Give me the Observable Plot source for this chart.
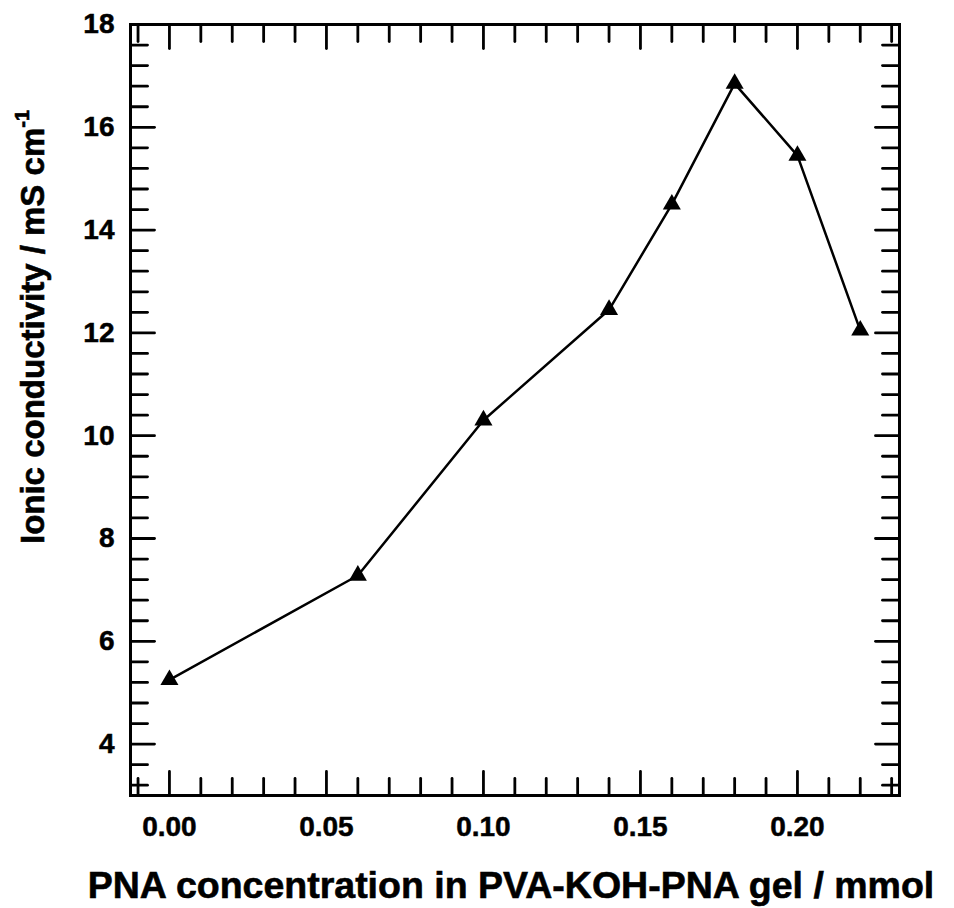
<!DOCTYPE html>
<html>
<head>
<meta charset="utf-8">
<script src="https://cdn.jsdelivr.net/npm/d3@7"></script>
<script src="https://cdn.jsdelivr.net/npm/@observablehq/plot@0.6"></script>
<style>
  html, body { margin: 0; padding: 0; background: #fff; }
  #chart { width: 954px; height: 908px; }
</style>
</head>
<body>
<div id="chart"></div>
<script>
// ---- data ----
const concentration = [0.00, 0.06, 0.10, 0.14, 0.16, 0.18, 0.20, 0.22];
const conductivity  = [5.25, 7.28, 10.30, 12.45, 14.50, 16.85, 15.45, 12.05];

const xMajorTicks = [0.00, 0.05, 0.10, 0.15, 0.20];
const yMajorTicks = [4, 6, 8, 10, 12, 14, 16, 18];

const xLabel = "PNA concentration in PVA-KOH-PNA gel / mmol";
const yLabel = "Ionic conductivity / mS cm";
const yLabelSup = "-1";

// minor ticks: every 0.01 on x, every 0.4 on y
const xMinorTicks = d3.range(-1, 24).filter(i => i % 5 !== 0).map(i => i / 100);
const yMinorTicks = d3.range(8, 45).filter(i => i % 5 !== 0).map(i => +(i * 0.4).toFixed(1));

const data = concentration.map((c, i) => ({c, k: conductivity[i]}));

const tickShape = {draw(ctx, l) { ctx.moveTo(0, 0); ctx.lineTo(0, -l); }};
const tickStyle = {stroke: "black", strokeWidth: 2.8, anchor: "start", shape: tickShape};

const font = "'Liberation Sans', Arial, sans-serif";
const tickFont = 28;

const plot = Plot.plot({
  width: 954,
  height: 908,
  marginLeft: 130,
  marginRight: 55,
  marginTop: 24,
  marginBottom: 113,
  style: {fontFamily: font, fontWeight: "bold", fontSize: tickFont + "px", color: "black", background: "white"},
  x: {domain: [-0.0124, 0.2325]},
  y: {domain: [3, 18]},
  marks: [
    // inward ticks, left & right
    Plot.vector(yMajorTicks, {y: d => d, frameAnchor: "left", rotate: 90, length: 24, ...tickStyle}),
    Plot.vector(yMinorTicks, {y: d => d, frameAnchor: "left", rotate: 90, length: 17, ...tickStyle}),
    Plot.vector(yMajorTicks, {y: d => d, frameAnchor: "right", rotate: -90, length: 24, ...tickStyle}),
    Plot.vector(yMinorTicks, {y: d => d, frameAnchor: "right", rotate: -90, length: 17, ...tickStyle}),
    // inward ticks, bottom & top
    Plot.vector(xMajorTicks, {x: d => d, frameAnchor: "bottom", rotate: 0, length: 24, ...tickStyle}),
    Plot.vector(xMinorTicks, {x: d => d, frameAnchor: "bottom", rotate: 0, length: 17, ...tickStyle}),
    Plot.vector(xMajorTicks, {x: d => d, frameAnchor: "top", rotate: 180, length: 24, ...tickStyle}),
    Plot.vector(xMinorTicks, {x: d => d, frameAnchor: "top", rotate: 180, length: 17, ...tickStyle}),
    // tick labels
    Plot.axisY(yMajorTicks, {anchor: "left", tickSize: 0, tickPadding: 16, tickFormat: d => String(d), label: null, fontSize: tickFont, fontWeight: "bold"}),
    Plot.axisX(xMajorTicks, {anchor: "bottom", tickSize: 0, tickPadding: 21, tickFormat: d3.format(".2f"), label: null, fontSize: tickFont, fontWeight: "bold"}),
    Plot.frame({stroke: "black", strokeWidth: 3}),
    // data
    Plot.line(data, {x: "c", y: "k", stroke: "black", strokeWidth: 2.5}),
    Plot.dot(data, {x: "c", y: "k", symbol: "triangle", r: 6.7, fill: "black", stroke: "none"})
  ]
});

const svg = d3.select(plot);
// slightly heavier glyphs, like the reference's Arial Bold
svg.selectAll("text")
  .style("stroke", "black")
  .style("stroke-width", "0.5px");

// x axis label
svg.append("text")
  .attr("x", 511)
  .attr("y", 898)
  .attr("text-anchor", "middle")
  .style("font-family", font)
  .style("font-weight", "bold")
  .style("font-size", "37.5px")
  .style("stroke", "black")
  .style("stroke-width", "0.6px")
  .attr("fill", "black")
  .text(xLabel);
// y axis label with superscript
const yl = svg.append("text")
  .attr("transform", "translate(44,327) rotate(-90)")
  .attr("text-anchor", "middle")
  .style("font-family", font)
  .style("font-weight", "bold")
  .style("font-size", "33px")
  .style("stroke", "black")
  .style("stroke-width", "0.6px")
  .attr("fill", "black");
yl.append("tspan").text(yLabel);
yl.append("tspan").attr("dy", -15).style("font-size", "20px").text(yLabelSup);

document.getElementById("chart").appendChild(plot);
</script>
</body>
</html>
